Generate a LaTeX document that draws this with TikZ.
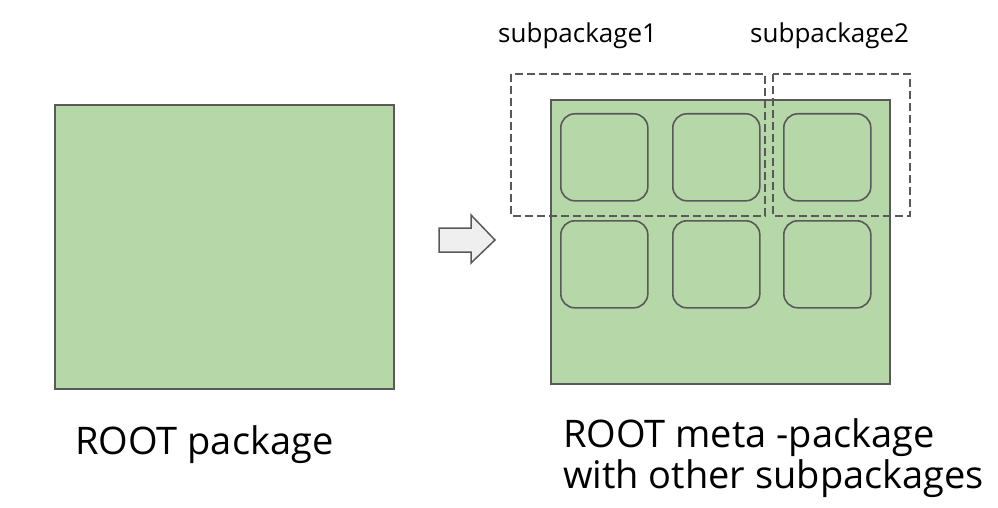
\documentclass[tikz,border=0pt]{standalone}
\usepackage{fontspec}
\setmainfont{Open Sans}
\definecolor{pkggreen}{HTML}{B6D7A8}
\definecolor{edgegray}{HTML}{595959}
\definecolor{arrowfill}{HTML}{EFEFEF}
\begin{document}
\begin{tikzpicture}[x=1pt,y=-1pt,
  bigbox/.style={draw=edgegray,fill=pkggreen,line width=2pt,inner sep=0pt,anchor=north west},
  subbox/.style={draw=edgegray,fill=pkggreen,line width=1.6pt,rounded corners=14pt,inner sep=0pt,anchor=north west,minimum width=87pt,minimum height=87pt},
  groupbox/.style={draw=edgegray,dashed,dash pattern=on 8pt off 4pt,line width=1.5pt},
  bigtext/.style={anchor=base west,inner sep=0pt,font=\fontsize{38}{41}\selectfont},
  smalltext/.style={anchor=base west,inner sep=0pt,font=\fontsize{26}{30}\selectfont}
]
\useasboundingbox (0,0) rectangle (998,508);
% left package
\node[bigbox,minimum width=339pt,minimum height=284pt] (root) at (54,104) {};
\node[bigtext] (rootlbl) at (75,454) {ROOT package};
% arrow
\draw[edgegray,fill=arrowfill,line width=1.5pt,line join=miter]
  (439,228) -- (471,228) -- (471,215) -- (495,240) -- (471,263) -- (471,252) -- (439,252) -- cycle;
% meta package
\node[bigbox,minimum width=339pt,minimum height=284pt] (meta) at (550,99) {};
\node[subbox] (s1) at (560,113) {};
\node[subbox] (s2) at (672,113) {};
\node[subbox] (s3) at (783,113) {};
\node[subbox] (s4) at (560,220) {};
\node[subbox] (s5) at (672,220) {};
\node[subbox] (s6) at (783,220) {};
% subpackage groups
\draw[groupbox] (511,74) rectangle (765,216);
\draw[groupbox] (773,74) rectangle (910,216);
\node[smalltext] (g1) at (498,43) {subpackage1};
\node[smalltext] (g2) at (750,43) {subpackage2};
\node[bigtext] (metalbl1) at (563,447) {ROOT meta -package};
\node[bigtext] (metalbl2) at (563,488) {with other subpackages};
\end{tikzpicture}
\end{document}
